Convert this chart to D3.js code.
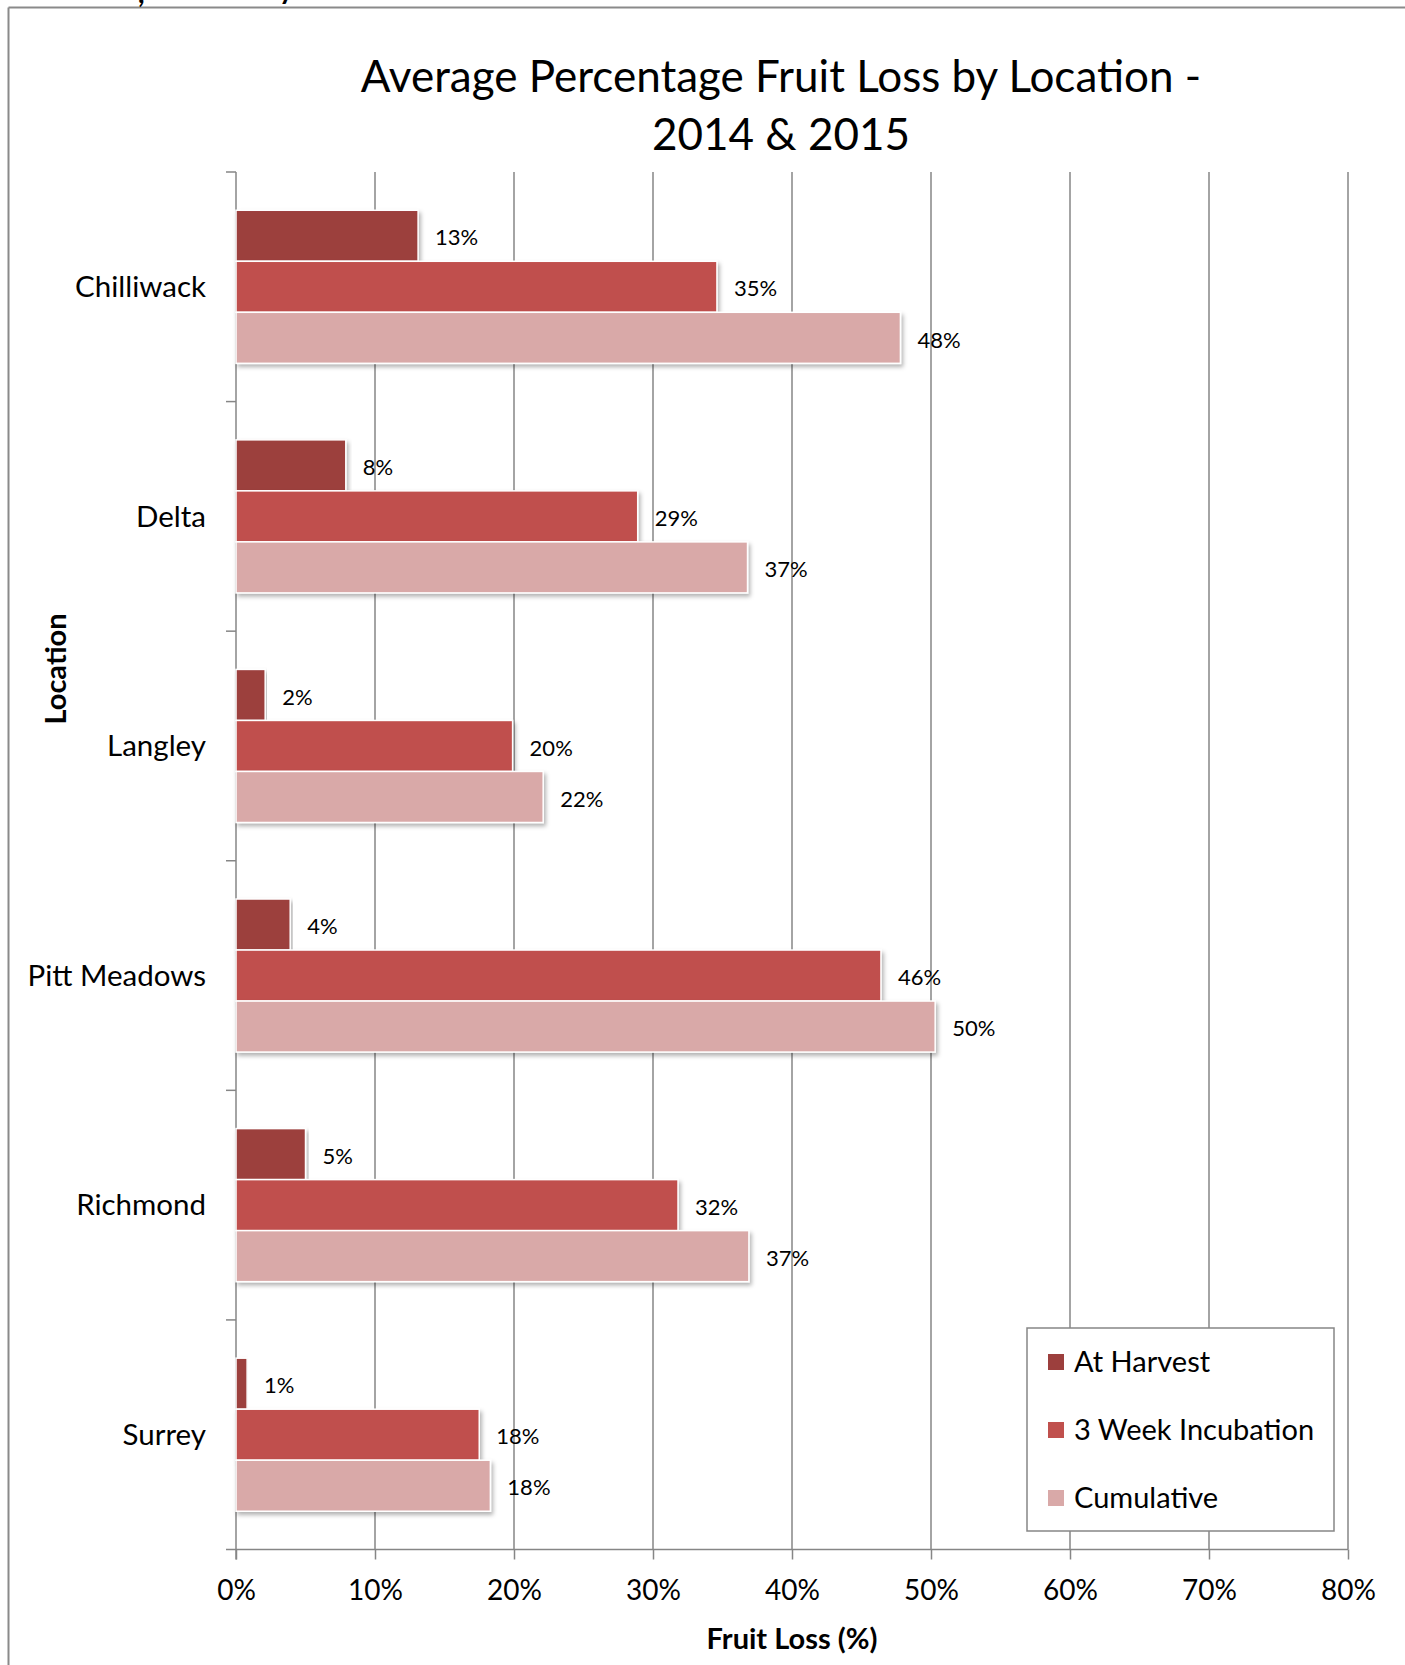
<!DOCTYPE html>
<html>
<head>
<meta charset="utf-8">
<script src="https://cdn.jsdelivr.net/npm/d3@7"></script>
<style>
  body { margin: 0; background: #fff; }
  text { font-family: Lato, "Open Sans", sans-serif; fill: #000; }
</style>
</head>
<body>
<svg id="chart" width="1405" height="1665"></svg>
<script>
// data (percent)
var locations = ["Chilliwack", "Delta", "Langley", "Pitt Meadows", "Richmond", "Surrey"];
var seriesNames = ["At Harvest", "3 Week Incubation", "Cumulative"];
var atHarvest = [13.1, 7.9, 2.1, 3.9, 5.0, 0.8];
var incubation = [34.6, 28.9, 19.9, 46.4, 31.8, 17.5];
var cumulative = [47.8, 36.8, 22.1, 50.3, 36.9, 18.3];
var xTicks = [0, 10, 20, 30, 40, 50, 60, 70, 80];
var colors = ["#9c3f3d", "#c0504d", "#d9a9a8"];

var seriesValues = [atHarvest, incubation, cumulative];

var svg = d3.select("#chart");
var gridColor = "#868686";

var plotLeft = 236, plotRight = 1348, plotTop = 172, plotBottom = 1549.5;

var x = d3.scaleLinear().domain([0, 80]).range([plotLeft, plotRight]);
var y = d3.scaleBand().domain(locations).range([plotTop, plotBottom]);
var ySub = d3.scaleBand().domain(seriesNames)
    .range([0, y.bandwidth()])
    .paddingInner(0)
    .paddingOuter(0.75);

// shadow for bars
var defs = svg.append("defs");
defs.append("filter")
    .attr("id", "shadow")
    .attr("x", "-5%").attr("y", "-20%")
    .attr("width", "110%").attr("height", "160%")
  .append("feDropShadow")
    .attr("dx", 2).attr("dy", 3)
    .attr("stdDeviation", 2)
    .attr("flood-color", "#000")
    .attr("flood-opacity", 0.3);

// outer frame (only top & left visible)
svg.append("line")
    .attr("x1", 8.5).attr("y1", 7.5).attr("x2", 1405).attr("y2", 7.5)
    .attr("stroke", "#8a8a8a").attr("stroke-width", 2);
svg.append("line")
    .attr("x1", 8.5).attr("y1", 7.5).attr("x2", 8.5).attr("y2", 1665)
    .attr("stroke", "#8a8a8a").attr("stroke-width", 2);

// cut-off text from the page above
svg.append("text").attr("x", 138).attr("y", 3).attr("font-size", 28).attr("font-weight", "bold").text(",");
svg.append("text").attr("x", 279).attr("y", -1).attr("font-size", 28).attr("font-weight", "bold").text("y");

// title
var title = svg.append("text")
    .attr("text-anchor", "middle")
    .attr("font-size", 44);
title.append("tspan").attr("x", 781).attr("y", 92).text("Average Percentage Fruit Loss by Location -");
title.append("tspan").attr("x", 781).attr("y", 150).text("2014 & 2015");

// vertical gridlines
svg.append("g").selectAll("line")
    .data(xTicks.slice(1))
    .enter().append("line")
    .attr("x1", function (d) { return x(d); })
    .attr("x2", function (d) { return x(d); })
    .attr("y1", plotTop)
    .attr("y2", plotBottom)
    .attr("stroke", gridColor)
    .attr("stroke-width", 1.5);

// x axis
var xAxis = d3.axisBottom(x)
    .tickValues(xTicks)
    .tickSizeInner(10)
    .tickSizeOuter(0)
    .tickPadding(21)
    .tickFormat(function (d) { return d + "%"; });

var gx = svg.append("g")
    .attr("transform", "translate(0," + plotBottom + ")")
    .call(xAxis);
gx.select(".domain").remove();
gx.selectAll(".tick line").attr("stroke", gridColor).attr("stroke-width", 1.5);
gx.selectAll(".tick text")
    .attr("font-family", "Lato, 'Open Sans', sans-serif")
    .attr("font-size", 28)
    .attr("fill", "#000");
gx.append("line")
    .attr("x1", plotLeft - 10).attr("x2", plotRight)
    .attr("y1", 0).attr("y2", 0)
    .attr("stroke", gridColor).attr("stroke-width", 1.5);

// y axis line and ticks between categories
svg.append("line")
    .attr("x1", plotLeft).attr("x2", plotLeft)
    .attr("y1", plotTop).attr("y2", plotBottom + 10)
    .attr("stroke", gridColor).attr("stroke-width", 1.5);
svg.append("g").selectAll("line")
    .data(locations)
    .enter().append("line")
    .attr("x1", plotLeft - 10).attr("x2", plotLeft)
    .attr("y1", function (d) { return y(d); })
    .attr("y2", function (d) { return y(d); })
    .attr("stroke", gridColor).attr("stroke-width", 1.5);

// category labels
svg.append("g").selectAll("text")
    .data(locations)
    .enter().append("text")
    .attr("x", plotLeft - 30)
    .attr("y", function (d) { return y(d) + y.bandwidth() / 2; })
    .attr("dy", "0.35em")
    .attr("text-anchor", "end")
    .attr("font-size", 29.5)
    .text(function (d) { return d; });

// bars
var groups = svg.append("g").selectAll("g")
    .data(locations)
    .enter().append("g")
    .attr("transform", function (d) { return "translate(0," + y(d) + ")"; });

groups.selectAll("rect")
    .data(function (d, i) {
        return seriesNames.map(function (s, k) {
            return { series: s, k: k, value: seriesValues[k][i] };
        });
    })
    .enter().append("rect")
    .attr("x", x(0))
    .attr("y", function (d) { return ySub(d.series); })
    .attr("width", function (d) { return x(d.value) - x(0); })
    .attr("height", ySub.bandwidth())
    .attr("fill", function (d) { return colors[d.k]; })
    .attr("stroke", "#fff")
    .attr("stroke-width", 1.5)
    .attr("filter", "url(#shadow)");

// value labels
groups.selectAll("text")
    .data(function (d, i) {
        return seriesNames.map(function (s, k) {
            return { series: s, k: k, value: seriesValues[k][i] };
        });
    })
    .enter().append("text")
    .attr("x", function (d) { return x(d.value) + 17; })
    .attr("y", function (d) { return ySub(d.series) + ySub.bandwidth() / 2 + 2; })
    .attr("dy", "0.35em")
    .attr("font-size", 22)
    .text(function (d) { return Math.round(d.value) + "%"; });

// axis titles
svg.append("text")
    .attr("x", (plotLeft + plotRight) / 2)
    .attr("y", 1649)
    .attr("text-anchor", "middle")
    .attr("font-size", 29)
    .attr("font-weight", "bold")
    .text("Fruit Loss (%)");

svg.append("text")
    .attr("transform", "translate(66,669) rotate(-90)")
    .attr("text-anchor", "middle")
    .attr("font-size", 29)
    .attr("font-weight", "bold")
    .text("Location");

// legend
var legend = svg.append("g").attr("transform", "translate(1027,1328)");
legend.append("rect")
    .attr("width", 307).attr("height", 203)
    .attr("fill", "#fff")
    .attr("stroke", gridColor)
    .attr("stroke-width", 1.5);

var legendItems = legend.selectAll(".item")
    .data(seriesNames)
    .enter().append("g")
    .attr("class", "item")
    .attr("transform", function (d, i) { return "translate(0," + (34 + i * 68) + ")"; });

legendItems.append("rect")
    .attr("x", 21).attr("y", -8)
    .attr("width", 16).attr("height", 16)
    .attr("fill", function (d, i) { return colors[i]; });

legendItems.append("text")
    .attr("x", 47)
    .attr("y", 0)
    .attr("dy", "0.35em")
    .attr("font-size", 29)
    .text(function (d) { return d; });
</script>
</body>
</html>
